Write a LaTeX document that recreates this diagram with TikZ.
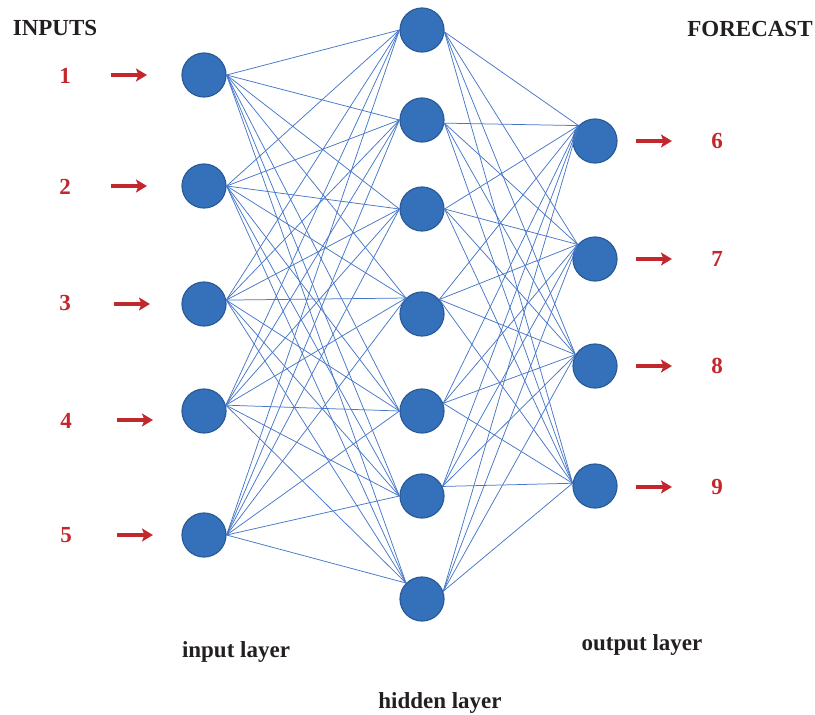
\documentclass[tikz,border=0pt]{standalone}
\usepackage{fontspec}
\setmainfont{Liberation Serif}
\usetikzlibrary{arrows.meta}

\definecolor{cellfill}{HTML}{3471BA}
\definecolor{cellrim}{HTML}{2A5C99}
\definecolor{wire}{HTML}{4677C8}
\definecolor{signal}{HTML}{C1272D}
\definecolor{ink}{HTML}{231F20}

\begin{document}
\begin{tikzpicture}[x=1pt,y=-1pt,
  cell/.style={circle, minimum size=44pt, inner sep=0pt, fill=cellfill, draw=cellrim, line width=1.2pt},
  wiring/.style={draw=wire, line width=0.75pt},
  feed/.style={draw=signal, line width=3.4pt, -{Stealth[length=11pt,width=13pt,inset=2.5pt]}},
  caption/.style={font=\fontsize{23}{23}\selectfont\bfseries, text=ink, inner sep=0pt},
  digit/.style={font=\fontsize{23}{23}\selectfont\bfseries, text=signal, inner sep=0pt}]

\useasboundingbox (0,0) rectangle (815,715);

% input layer
\node[cell] (i1) at (204,75)  {};
\node[cell] (i2) at (204,186) {};
\node[cell] (i3) at (204,304) {};
\node[cell] (i4) at (204,411) {};
\node[cell] (i5) at (204,535) {};

% hidden layer
\node[cell] (h1) at (422,30)  {};
\node[cell] (h2) at (422,120) {};
\node[cell] (h3) at (422,209) {};
\node[cell] (h4) at (422,314) {};
\node[cell] (h5) at (422,411) {};
\node[cell] (h6) at (422,496) {};
\node[cell] (h7) at (422,599) {};

% output layer
\node[cell] (o1) at (595,141) {};
\node[cell] (o2) at (595,259) {};
\node[cell] (o3) at (595,366) {};
\node[cell] (o4) at (595,486) {};

% ports where the wires meet each cell
\coordinate (i1o) at (i1.0);
\coordinate (i2o) at (i2.0);
\coordinate (i3o) at (i3.10);
\coordinate (i4o) at (i4.15);
\coordinate (i5o) at (i5.0);

\coordinate (h1i) at (h1.180);
\coordinate (h2i) at (h2.180);
\coordinate (h3i) at (h3.180);
\coordinate (h4i) at (h4.135);
\coordinate (h5i) at (h5.180);
\coordinate (h6i) at (h6.180);
\coordinate (h7i) at (h7.135);

\coordinate (h1o) at (h1.-5);
\coordinate (h2o) at (h2.-8);
\coordinate (h3o) at (h3.0);
\coordinate (h4o) at (h4.40);
\coordinate (h5o) at (h5.20);
\coordinate (h6o) at (h6.25);
\coordinate (h7o) at (h7.20);

\coordinate (o1i) at (o1.137);
\coordinate (o2i) at (o2.140);
\coordinate (o3i) at (o3.150);
\coordinate (o4i) at (o4.173);

% fully connected wiring
\foreach \a in {1,...,5}
  \foreach \b in {1,...,7}
    \draw[wiring] (i\a o) -- (h\b i);
\foreach \a in {1,...,7}
  \foreach \b in {1,...,4}
    \draw[wiring] (h\a o) -- (o\b i);

% input signals
\coordinate (s1a) at (111,75);  \coordinate (s1b) at (147,75);
\coordinate (s2a) at (111,186); \coordinate (s2b) at (147,186);
\coordinate (s3a) at (114,304); \coordinate (s3b) at (150,304);
\coordinate (s4a) at (117,420); \coordinate (s4b) at (153,420);
\coordinate (s5a) at (117,535); \coordinate (s5b) at (153,535);
\foreach \k in {1,...,5}
  \draw[feed] (s\k a) -- (s\k b);

\node[digit] (n1) at (65,76)  {1};
\node[digit] (n2) at (65,187) {2};
\node[digit] (n3) at (65,303) {3};
\node[digit] (n4) at (66,421) {4};
\node[digit] (n5) at (66,535) {5};

% forecast signals
\coordinate (f1a) at (636,141); \coordinate (f1b) at (672,141);
\coordinate (f2a) at (636,259); \coordinate (f2b) at (672,259);
\coordinate (f3a) at (636,366); \coordinate (f3b) at (672,366);
\coordinate (f4a) at (636,487); \coordinate (f4b) at (672,487);
\foreach \k in {1,...,4}
  \draw[feed] (f\k a) -- (f\k b);

\node[digit] (n6) at (717,141) {6};
\node[digit] (n7) at (717,259) {7};
\node[digit] (n8) at (717,366) {8};
\node[digit] (n9) at (717,487) {9};

% headings and layer names
\node[caption] (tin)  at (55,28)  {INPUTS};
\node[caption] (tout) at (750,29) {FORECAST};
\node[caption, anchor=base] (lin)  at (236,657) {input layer};
\node[caption, anchor=base] (lout) at (642,650) {output layer};
\node[caption, anchor=base] (lhid) at (440,708) {hidden layer};

\end{tikzpicture}
\end{document}
